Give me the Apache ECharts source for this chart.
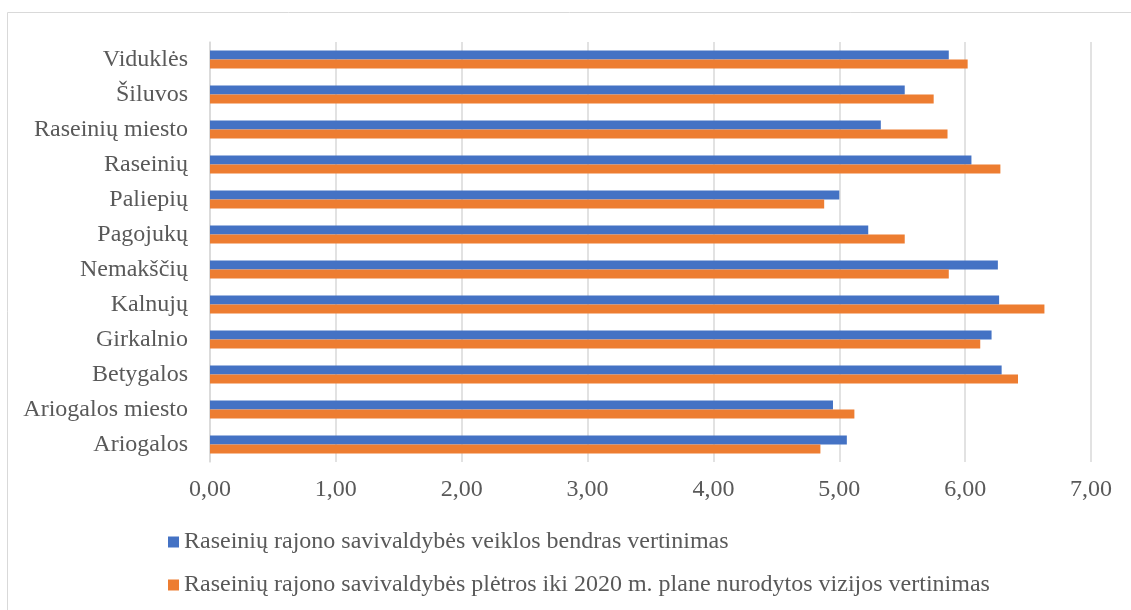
<!DOCTYPE html>
<html><head><meta charset="utf-8">
<script src="https://cdn.jsdelivr.net/npm/echarts@6/dist/echarts.min.js"></script>
<style>html,body{margin:0;padding:0;background:#fff}#c{width:1131px;height:610px}</style>
</head><body><div id="c"></div>
<script>
const categories = ["Ariogalos","Ariogalos miesto","Betygalos","Girkalnio","Kalnujų","Nemakščių","Pagojukų","Paliepių","Raseinių","Raseinių miesto","Šiluvos","Viduklės"];
const seriesNames = ["Raseinių rajono savivaldybės veiklos bendras vertinimas","Raseinių rajono savivaldybės plėtros iki 2020 m. plane nurodytos vizijos vertinimas"];
const bendras = [5.06,4.95,6.29,6.21,6.27,6.26,5.23,5.00,6.05,5.33,5.52,5.87];
const vizija = [4.85,5.12,6.42,6.12,6.63,5.87,5.52,4.88,6.28,5.86,5.75,6.02];
const xTicks = {min:0,max:7,interval:1};

const font = "'Liberation Serif','Times New Roman',serif";
const chart = echarts.init(document.getElementById('c'));
chart.setOption({
  animation:false,
  graphic:[{type:'rect',shape:{x:7.5,y:12.5,width:1200,height:700},style:{fill:'none',stroke:'#d9d9d9',lineWidth:1},silent:true}],
  grid:{left:210,right:40,top:42,bottom:148,outerBoundsMode:'none'},
  legend:{orient:'vertical',left:163,top:525,itemWidth:11,itemHeight:11,itemGap:19,icon:'rect',
    data:seriesNames,
    textStyle:{fontFamily:font,fontSize:24,lineHeight:24,color:'#595959'}},
  xAxis:{type:'value',min:xTicks.min,max:xTicks.max,interval:xTicks.interval,
    axisLine:{show:false},axisTick:{show:false},
    splitLine:{lineStyle:{color:'#d9d9d9',width:1.5}},
    axisLabel:{margin:16,fontFamily:font,fontSize:24,color:'#595959',formatter:v=>v.toFixed(2).replace('.',',')}},
  yAxis:{type:'category',data:categories,
    axisLine:{show:true,lineStyle:{color:'#d9d9d9',width:1.5}},axisTick:{show:false},
    axisLabel:{margin:22,fontFamily:font,fontSize:24,color:'#595959'}},
  series:[
    {name:seriesNames[0],type:'bar',data:bendras,itemStyle:{color:'#4472C4'},barWidth:9,barGap:'0%'},
    {name:seriesNames[1],type:'bar',data:vizija,itemStyle:{color:'#ED7D31'},barWidth:9,barGap:'0%'}
  ]
});
</script></body></html>
